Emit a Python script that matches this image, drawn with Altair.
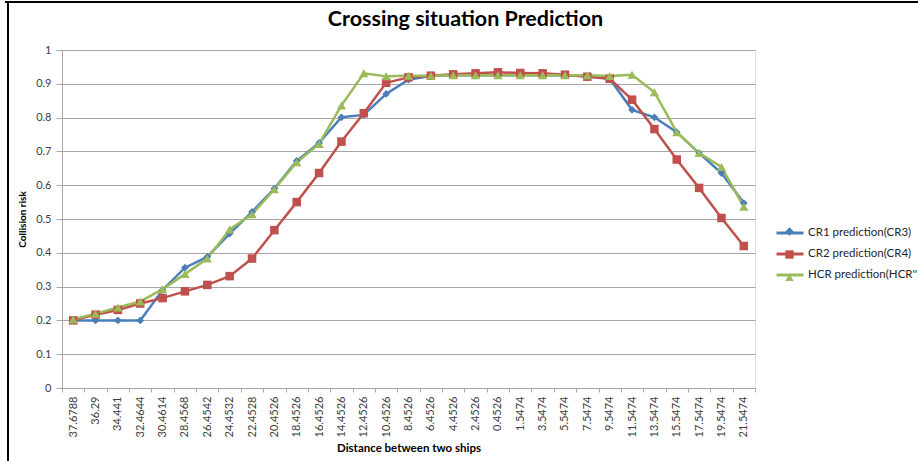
import altair as alt
import pandas as pd

# Distance between the two ships (category labels along the x axis)
distances = [
    "37.6788", "36.29", "34.441", "32.4644", "30.4614", "28.4568", "26.4542",
    "24.4532", "22.4528", "20.4526", "18.4526", "16.4526", "14.4526", "12.4526",
    "10.4526", "8.4526", "6.4526", "4.4526", "2.4526", "0.4526", "1.5474",
    "3.5474", "5.5474", "7.5474", "9.5474", "11.5474", "13.5474", "15.5474",
    "17.5474", "19.5474", "21.5474",
]

series_names = ["CR1 prediction(CR3)", "CR2 prediction(CR4)", "HCR prediction(HCR''"]
series_colors = ["#4a7ebb", "#c0504d", "#9bbb59"]
series_shapes = ["diamond", "square", "triangle-up"]
series_sizes = [60, 85, 95]

cr1 = [0.200, 0.200, 0.200, 0.200, 0.290, 0.356, 0.388, 0.457, 0.521, 0.590,
       0.672, 0.725, 0.801, 0.808, 0.870, 0.912, 0.924, 0.925, 0.925, 0.925,
       0.925, 0.925, 0.925, 0.922, 0.915, 0.823, 0.801, 0.757, 0.695, 0.636,
       0.547]
cr2 = [0.200, 0.217, 0.231, 0.250, 0.266, 0.286, 0.305, 0.331, 0.383, 0.467,
       0.550, 0.636, 0.729, 0.813, 0.903, 0.919, 0.924, 0.928, 0.931, 0.934,
       0.932, 0.931, 0.927, 0.921, 0.915, 0.853, 0.766, 0.676, 0.592, 0.503,
       0.420]
hcr = [0.203, 0.220, 0.238, 0.256, 0.292, 0.337, 0.383, 0.469, 0.514, 0.588,
       0.668, 0.722, 0.836, 0.931, 0.922, 0.924, 0.924, 0.925, 0.925, 0.925,
       0.925, 0.925, 0.925, 0.925, 0.923, 0.927, 0.875, 0.757, 0.695, 0.654,
       0.536]

rows = []
for name, vals in zip(series_names, [cr1, cr2, hcr]):
    for d, v in zip(distances, vals):
        rows.append({"distance": d, "series": name, "risk": v})
df = pd.DataFrame(rows)

FONT = "Lato"
GRID = "#a6a6a6"

x_enc = alt.X(
    "distance:N",
    sort=distances,
    scale=alt.Scale(type="band", paddingInner=0, paddingOuter=0),
    bandPosition=0.5,
    axis=alt.Axis(
        title="Distance  between two ships",
        titleFont=FONT, titleFontSize=11.5, titleFontWeight="bold", titleColor="#000",
        titlePadding=6,
        labelAngle=-90, labelFont=FONT, labelFontSize=11, labelColor="#404040",
        labelPadding=4,
        tickBand="extent", tickSize=4, tickColor=GRID,
        domainColor=GRID, grid=False,
    ),
)
y_enc = alt.Y(
    "risk:Q",
    scale=alt.Scale(domain=[0, 1], nice=False),
    axis=alt.Axis(
        title="Collision risk",
        titleFont=FONT, titleFontSize=10, titleFontWeight="bold", titleColor="#000",
        titlePadding=8,
        values=[i / 10 for i in range(11)], format=".1~f",
        labelFont=FONT, labelFontSize=11, labelColor="#404040", labelPadding=5,
        tickSize=6, tickColor=GRID, domainColor=GRID,
        grid=True, gridColor=GRID, gridWidth=1,
    ),
)

line_legend = alt.Legend(
    title=None, orient="none", legendX=713, legendY=168, padding=0,
    symbolType="stroke", symbolSize=729, symbolStrokeWidth=3,
    labelFont=FONT, labelFontSize=11.5, labelColor="#262626", labelOffset=3,
    rowPadding=-5,
)
point_legend = alt.Legend(
    title=None, orient="none", legendX=722, legendY=176, padding=0,
    symbolSize=70, symbolStrokeWidth=0, labelExpr="''",
    labelFont=FONT, labelFontSize=11, rowPadding=11,
)

lines = alt.Chart(df).mark_line(strokeWidth=2.5).encode(
    x=x_enc,
    y=y_enc,
    color=alt.Color("series:N", scale=alt.Scale(domain=series_names, range=series_colors),
                    legend=line_legend),
)

points = alt.Chart(df).mark_point(filled=True, opacity=1).encode(
    x=x_enc,
    y=y_enc,
    color=alt.Color("series:N", scale=alt.Scale(domain=series_names, range=series_colors),
                    legend=point_legend),
    shape=alt.Shape("series:N", scale=alt.Scale(domain=series_names, range=series_shapes),
                    legend=point_legend),
    size=alt.Size("series:N", scale=alt.Scale(domain=series_names, range=series_sizes),
                  legend=None),
)

# Outer frame lines (top and left edges of the chart box)
frame_top = alt.Chart(df).mark_rule(color="#000", strokeWidth=2).encode(
    x=alt.value(-57), x2=alt.value(860), y=alt.value(-48)
)
frame_left = alt.Chart(df).mark_rule(color="#000", strokeWidth=2).encode(
    x=alt.value(-54), y=alt.value(-49), y2=alt.value(415)
)

chart = (
    alt.layer(lines, points, frame_top, frame_left)
    .resolve_scale(color="independent", shape="independent")
    .properties(
        width=693,
        height=338,
        autosize=alt.AutoSizeParams(type="none"),
        padding={"left": 62, "top": 50, "right": 163, "bottom": 73},
        title=alt.TitleParams(
            "Crossing situation Prediction",
            font=FONT, fontSize=21.5, fontWeight="bold", color="#000",
            anchor="middle", dx=57, offset=-30,
        ),
    )
    .configure_view(stroke=None)
    .configure(background="white")
)

chart.save("out.html", embed_options={"renderer": "svg", "actions": False})
